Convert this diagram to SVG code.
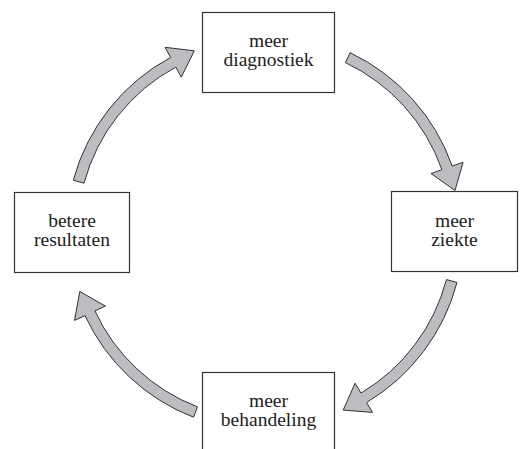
<svg xmlns="http://www.w3.org/2000/svg" width="520" height="449" viewBox="0 0 520 449">
<style>
.box{fill:#fff;stroke:#333;stroke-width:1.2}
.lbl{font-family:"Liberation Serif","DejaVu Serif",serif;font-size:19.5px;fill:#222;text-anchor:middle}
.arr{fill:#bcbdc0;stroke:#333;stroke-width:1;stroke-linejoin:miter}
</style>
<rect width="520" height="449" fill="#fff"/>
<g id="connectors">
<path class="arr" d="M350.1,52.7 A198.5,198.5 0 0 1 452.2,166.1 L463.1,162.2 L455,190.5 L431,173.5 L441.9,169.7 A187.5,187.5 0 0 0 345.4,62.6 Z"/>
<path class="arr" d="M457,282.4 A198.5,198.5 0 0 1 366.6,402.5 L372.5,412.4 L343.2,410.1 L355.1,383.2 L361,393.1 A187.5,187.5 0 0 0 446.4,279.6 Z"/>
<path class="arr" d="M193.5,417.2 A198.5,198.5 0 0 1 85,315.6 L74.5,320.4 L79.8,291.5 L105.4,306.1 L94.9,310.9 A187.5,187.5 0 0 0 197.5,406.9 Z"/>
<path class="arr" d="M73.3,180.3 A198.5,198.5 0 0 1 170.6,57.4 L165.1,47.3 L194.3,50.8 L181.3,77.2 L175.8,67.1 A187.5,187.5 0 0 0 84,183.2 Z"/>
</g>
<g id="node-diagnostiek">
<rect class="box" x="202.5" y="12.5" width="132" height="80"/>
<text class="lbl" x="268.5" y="47">meer</text>
<text class="lbl" x="268.5" y="66">diagnostiek</text>
</g>
<g id="node-ziekte">
<rect class="box" x="391.5" y="191.5" width="126" height="80"/>
<text class="lbl" x="454.5" y="227">meer</text>
<text class="lbl" x="454.5" y="246">ziekte</text>
</g>
<g id="node-resultaten">
<rect class="box" x="14.5" y="192.5" width="115" height="80"/>
<text class="lbl" x="72" y="227">betere</text>
<text class="lbl" x="72" y="246">resultaten</text>
</g>
<g id="node-behandeling">
<rect class="box" x="202.5" y="372.5" width="132" height="90"/>
<text class="lbl" x="268.5" y="407">meer</text>
<text class="lbl" x="268.5" y="426">behandeling</text>
</g>
</svg>
